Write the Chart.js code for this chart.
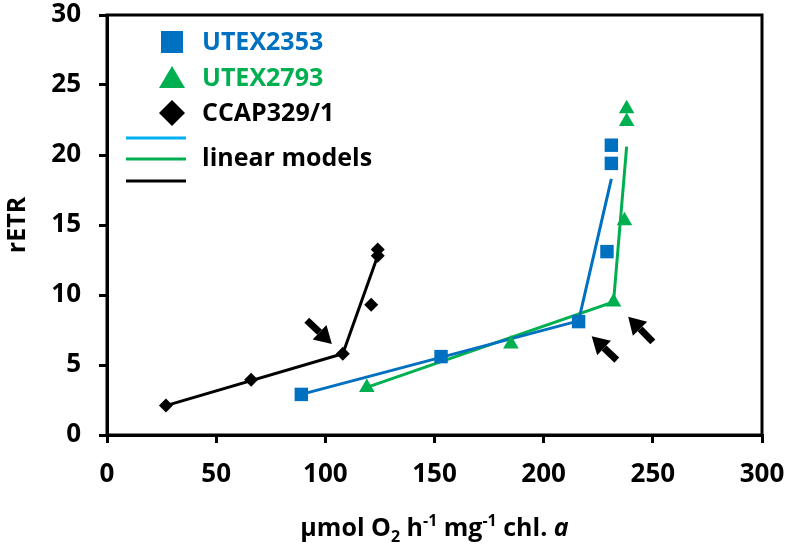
<!DOCTYPE html>
<html>
<head>
<meta charset="utf-8">
<script src="https://cdn.jsdelivr.net/npm/chart.js@4.4.0/dist/chart.umd.min.js"></script>
<style>
  html, body { margin: 0; padding: 0; background: #fff; }
</style>
</head>
<body>
<canvas id="chart" width="786" height="548"></canvas>
<script>
// measured points (x: umol O2 h-1 mg-1 chl a, y: rETR)
const utex2353X = [89, 153, 216, 229, 231, 231];
const utex2353Y = [2.9, 5.6, 8.1, 13.1, 19.4, 20.7];
const utex2793X = [119, 185, 232, 237, 238, 238];
const utex2793Y = [3.4, 6.5, 9.5, 15.3, 22.4, 23.3];
const ccapX = [27, 66, 108, 121, 124, 124];
const ccapY = [2.1, 3.95, 5.8, 9.3, 12.8, 13.25];

// piecewise linear models: start, breakpoint, end
const model2353X = [89, 216, 231];
const model2353Y = [2.9, 8.15, 18.3];
const model2793X = [119, 232, 238];
const model2793Y = [3.4, 9.5, 20.6];
const modelCcapX = [27, 108, 124];
const modelCcapY = [2.1, 5.8, 12.8];

const xTicks = [0, 50, 100, 150, 200, 250, 300];
const yTicks = [0, 5, 10, 15, 20, 25, 30];

// arrows at the breakpoints: tailX, tailY, tipX, tipY
const arrows = [
    [91.5, 8.2, 103, 6.5],
    [233.5, 5.35, 222, 7.05],
    [250, 6.65, 238.7, 8.45]
];

const BLUE = '#0070C0';
const GREEN = '#00B050';
const FONT = '"Open Sans", "DejaVu Sans", sans-serif';

function pts(xs, ys) {
    return xs.map((x, i) => ({ x: x, y: ys[i] }));
}

// frame, arrows, legend and x title
const extras = {
    id: 'extras',
    afterDraw(chart) {
        const ctx = chart.ctx;
        const a = chart.chartArea;
        const xs = chart.scales.x;
        const ys = chart.scales.y;
        ctx.save();

        ctx.strokeStyle = '#000';
        ctx.lineWidth = 3;
        ctx.strokeRect(a.left, a.top, a.right - a.left, a.bottom - a.top);

        // arrows
        ctx.fillStyle = '#000';
        arrows.forEach(ar => {
            const x0 = xs.getPixelForValue(ar[0]), y0 = ys.getPixelForValue(ar[1]);
            const x1 = xs.getPixelForValue(ar[2]), y1 = ys.getPixelForValue(ar[3]);
            const ang = Math.atan2(y1 - y0, x1 - x0);
            const head = 17, hw = 10;
            const bx = x1 - head * Math.cos(ang), by = y1 - head * Math.sin(ang);
            ctx.lineWidth = 7;
            ctx.beginPath();
            ctx.moveTo(x0, y0);
            ctx.lineTo(bx, by);
            ctx.stroke();
            ctx.beginPath();
            ctx.moveTo(x1, y1);
            ctx.lineTo(bx + hw * Math.sin(ang), by - hw * Math.cos(ang));
            ctx.lineTo(bx - hw * Math.sin(ang), by + hw * Math.cos(ang));
            ctx.closePath();
            ctx.fill();
        });

        // legend
        ctx.font = 'bold 25px ' + FONT;
        ctx.textBaseline = 'middle';
        ctx.textAlign = 'left';
        ctx.fillStyle = BLUE;
        ctx.fillRect(161, 31, 22, 22);
        ctx.fillText('UTEX2353', 202, 43);
        ctx.fillStyle = GREEN;
        ctx.beginPath();
        ctx.moveTo(172, 66);
        ctx.lineTo(185, 88);
        ctx.lineTo(159, 88);
        ctx.closePath();
        ctx.fill();
        ctx.fillText('UTEX2793', 202, 79);
        ctx.fillStyle = '#000';
        ctx.beginPath();
        ctx.moveTo(172, 100);
        ctx.lineTo(185, 113);
        ctx.lineTo(172, 126);
        ctx.lineTo(159, 113);
        ctx.closePath();
        ctx.fill();
        ctx.fillText('CCAP329/1', 202, 114);
        [['#00B0F0', 138], [GREEN, 159], ['#000', 181]].forEach(l => {
            ctx.strokeStyle = l[0];
            ctx.lineWidth = 3;
            ctx.beginPath();
            ctx.moveTo(126, l[1]);
            ctx.lineTo(186, l[1]);
            ctx.stroke();
        });
        ctx.fillStyle = '#000';
        ctx.fillText('linear models', 202, 159);

        // x axis title with sub/superscripts
        const parts = [
            { t: '\u00b5mol O', s: 25, dy: 0 },
            { t: '2', s: 16, dy: 6 },
            { t: ' h', s: 25, dy: 0 },
            { t: '-1', s: 16, dy: -10 },
            { t: ' mg', s: 25, dy: 0 },
            { t: '-1', s: 16, dy: -10 },
            { t: ' chl. ', s: 25, dy: 0 },
            { t: 'a', s: 25, dy: 0, it: true }
        ];
        ctx.textBaseline = 'alphabetic';
        let total = 0;
        parts.forEach(p => {
            ctx.font = (p.it ? 'italic ' : '') + 'bold ' + p.s + 'px ' + FONT;
            p.w = ctx.measureText(p.t).width;
            total += p.w;
        });
        let x = (a.left + a.right) / 2 - total / 2;
        parts.forEach(p => {
            ctx.font = (p.it ? 'italic ' : '') + 'bold ' + p.s + 'px ' + FONT;
            ctx.fillText(p.t, x, 536 + p.dy);
            x += p.w;
        });
        ctx.restore();
    }
};

const axisStyle = {
    grid: { drawOnChartArea: false, drawTicks: true, tickLength: 8, color: '#000', lineWidth: 3 },
    border: { color: '#000', width: 3 }
};

new Chart(document.getElementById('chart'), {
    type: 'scatter',
    data: {
        datasets: [
            { label: 'UTEX2353', data: pts(utex2353X, utex2353Y), pointStyle: 'rect', pointRadius: 9.5,
              backgroundColor: BLUE, borderColor: BLUE, borderWidth: 0 },
            { label: 'UTEX2793', data: pts(utex2793X, utex2793Y), pointStyle: 'triangle', pointRadius: 9,
              backgroundColor: GREEN, borderColor: GREEN, borderWidth: 0 },
            { label: 'CCAP329/1', data: pts(ccapX, ccapY), pointStyle: 'rectRot', pointRadius: 7,
              backgroundColor: '#000', borderColor: '#000', borderWidth: 0 },
            { label: 'model UTEX2353', data: pts(model2353X, model2353Y), showLine: true, pointRadius: 0,
              borderColor: BLUE, borderWidth: 3 },
            { label: 'model UTEX2793', data: pts(model2793X, model2793Y), showLine: true, pointRadius: 0,
              borderColor: GREEN, borderWidth: 3 },
            { label: 'model CCAP329/1', data: pts(modelCcapX, modelCcapY), showLine: true, pointRadius: 0,
              borderColor: '#000', borderWidth: 3 }
        ]
    },
    options: {
        responsive: false,
        animation: false,
        devicePixelRatio: 1,
        layout: { padding: 0 },
        plugins: { legend: { display: false }, tooltip: { enabled: false } },
        scales: {
            x: {
                type: 'linear', min: 0, max: 300,
                afterBuildTicks: s => { s.ticks = xTicks.map(v => ({ value: v })); },
                afterFit: s => { s.height = 113; s.paddingLeft = 0; s.paddingRight = 24; },
                ticks: { font: { family: FONT, size: 26, weight: 'bold' }, color: '#000', padding: 16 },
                ...axisStyle
            },
            y: {
                type: 'linear', min: 0, max: 30,
                afterBuildTicks: s => { s.ticks = yTicks.map(v => ({ value: v })); },
                afterFit: s => { s.width = 107; s.paddingTop = 15; s.paddingBottom = 0; },
                ticks: { font: { family: FONT, size: 26, weight: 'bold' }, color: '#000', padding: 18 },
                title: { display: true, text: 'rETR', color: '#000', padding: { top: 3, bottom: 0 },
                         font: { family: FONT, size: 25, weight: 'bold' } },
                ...axisStyle
            }
        }
    },
    plugins: [extras]
});
</script>
</body>
</html>
